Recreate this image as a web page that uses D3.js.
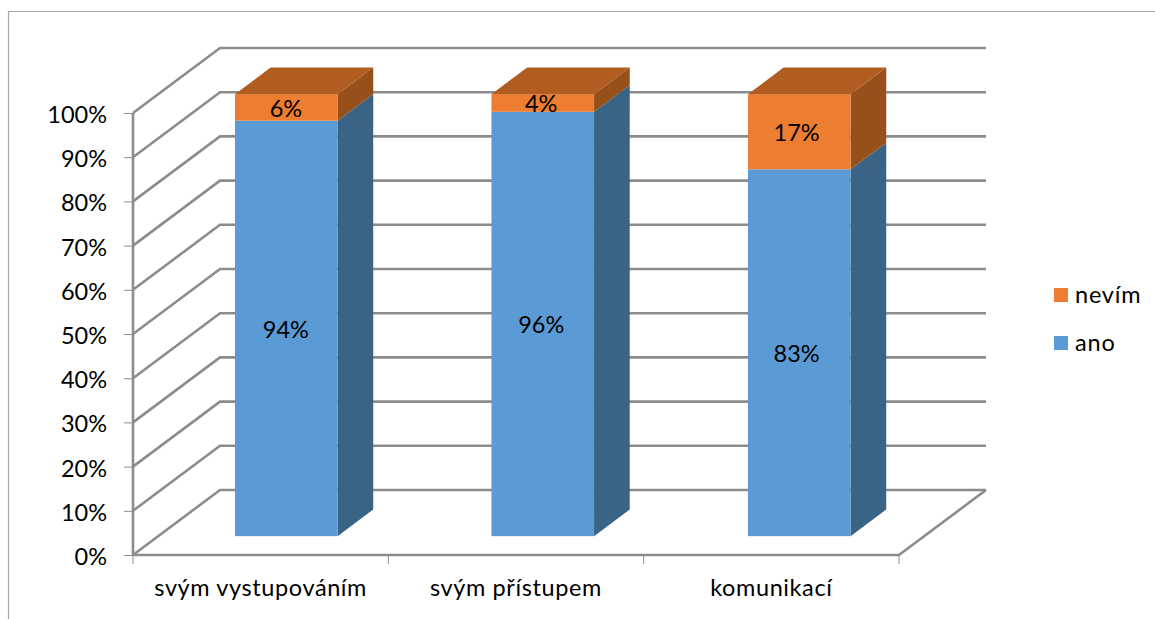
<!DOCTYPE html>
<html>
<head>
<meta charset="utf-8">
<script src="https://cdn.jsdelivr.net/npm/d3@7"></script>
<style>
  html, body { margin: 0; padding: 0; background: #fff; }
  svg { display: block; }
  text { font-family: Lato, "Open Sans", sans-serif; fill: #000; }
</style>
</head>
<body>
<svg id="chart" width="1155" height="619"></svg>
<script>
// Chart data
const categories = ["svým vystupováním", "svým přístupem", "komunikací"];
const ano = [94, 96, 83];
const nevim = [6, 4, 17];
const seriesNames = ["nevím", "ano"];
const yTicks = [0, 10, 20, 30, 40, 50, 60, 70, 80, 90, 100];

const colors = {
  ano: { front: "#5b9bd5", side: "#3a6486" },
  "nevím": { front: "#ed7d31", side: "#975019", top: "#b15d22" }
};
const gridColor = "#8c8c8c";
const fontSize = 23.5;

const svg = d3.select("#chart");

// Oblique projection: depth 0 is the front of the floor, 1 is the back wall
const depthX = d3.scaleLinear().domain([0, 1]).range([0, 87]);
const depthY = d3.scaleLinear().domain([0, 1]).range([0, -65]);

const y = d3.scaleLinear().domain([0, 100]).range([555, 113]);
const floorX = d3.scalePoint().domain(d3.range(4)).range([133, 899]);
const floorBand = d3.scaleBand().domain(categories).range([133, 899]);
const barX = d3.scaleBand().domain(categories).range([158, 927.5])
  .paddingInner(0.6).paddingOuter(0.3);

const barDepthFront = 0.29;
const barDepthBack = 0.70;

// Outer frame of the chart area (left and top sides are visible)
svg.append("path")
  .attr("d", "M8.5,619V11.5H1155")
  .attr("fill", "none")
  .attr("stroke", "#a6a6a6")
  .attr("stroke-width", 1.2);

// Walls and floor
const grid = svg.append("g")
  .attr("fill", "none")
  .attr("stroke", gridColor)
  .attr("stroke-width", 2.6);

const backX0 = floorX(0) + depthX(1);
const backX1 = floorX(3) + depthX(1);
grid.selectAll("path.gridline")
  .data(yTicks)
  .join("path")
  .attr("class", "gridline")
  .attr("d", v => `M${floorX(0)},${y(v)}L${backX0},${y(v) + depthY(1)}H${backX1}`);

grid.append("path")
  .attr("d", `M${floorX(0)},${y(100)}V${y(0)}H${floorX(3)}L${backX1},${y(0) + depthY(1)}`);

// Value axis
const yAxis = svg.append("g")
  .attr("transform", `translate(${floorX(0)},0)`)
  .call(d3.axisLeft(y).tickValues(yTicks).tickSize(9).tickPadding(17).tickFormat(d => d + "%"));
yAxis.select(".domain").remove();
yAxis.selectAll("line").attr("stroke", gridColor).attr("stroke-width", 1);
yAxis.selectAll("text")
  .attr("font-size", fontSize)
  .attr("font-family", "Lato, 'Open Sans', sans-serif")
  .attr("dy", "0.40em");

// Category ticks and labels
svg.append("g").selectAll("line")
  .data(d3.range(4))
  .join("line")
  .attr("x1", d => floorX(d)).attr("x2", d => floorX(d))
  .attr("y1", y(0)).attr("y2", y(0) + 9)
  .attr("stroke", gridColor).attr("stroke-width", 1);

const xAxis = svg.append("g")
  .attr("transform", `translate(0,${y(0)})`)
  .call(d3.axisBottom(floorBand).tickSize(0).tickPadding(24));
xAxis.select(".domain").remove();
xAxis.selectAll("text")
  .attr("font-size", fontSize)
  .attr("font-family", "Lato, 'Open Sans', sans-serif")
  .attr("letter-spacing", 0.6);

// Stacked boxes: front face, side face and, on the upper segment, the lid
const stacks = categories.map((name, i) => {
  const a = ano[i], n = nevim[i];
  return [
    { name, key: "ano", from: 0, to: a, label: a },
    { name, key: "nevím", from: a, to: a + n, label: n }
  ];
});
const dxDepth = depthX(barDepthBack) - depthX(barDepthFront);
const dyDepth = depthY(barDepthBack) - depthY(barDepthFront);
const valueY = v => y(v) + depthY(barDepthFront);

const boxes = svg.append("g").selectAll("g")
  .data(stacks)
  .join("g");

const segments = boxes.selectAll("g")
  .data(d => d)
  .join("g");

segments.append("path")
  .attr("fill", d => colors[d.key].side)
  .attr("d", d => {
    const xr = barX(d.name) + barX.bandwidth();
    return `M${xr},${valueY(d.from)}V${valueY(d.to)}l${dxDepth},${dyDepth}V${valueY(d.from) + dyDepth}Z`;
  });

segments.append("rect")
  .attr("x", d => barX(d.name))
  .attr("y", d => valueY(d.to))
  .attr("width", barX.bandwidth())
  .attr("height", d => valueY(d.from) - valueY(d.to))
  .attr("fill", d => colors[d.key].front);

segments.filter(d => d.key === "nevím").append("path")
  .attr("fill", d => colors[d.key].top)
  .attr("d", d => {
    const x0 = barX(d.name);
    return `M${x0},${valueY(d.to)}h${barX.bandwidth()}l${dxDepth},${dyDepth}h${-barX.bandwidth()}Z`;
  });

// Value labels sit on the category centres, shifted to the depth of the boxes
segments.append("text")
  .attr("x", d => floorBand(d.name) + floorBand.bandwidth() / 2 + depthX(barDepthFront))
  .attr("y", d => (valueY(d.from) + valueY(d.to)) / 2 + 1)
  .attr("dy", "0.36em")
  .attr("text-anchor", "middle")
  .attr("font-size", fontSize)
  .text(d => d.label + "%");

// Legend
const legendY = d3.scalePoint().domain(seriesNames).range([295, 343]);
const legend = svg.append("g").selectAll("g")
  .data(seriesNames)
  .join("g")
  .attr("transform", d => `translate(1054,${legendY(d)})`);
legend.append("rect")
  .attr("y", -7).attr("width", 14).attr("height", 14)
  .attr("fill", d => colors[d].front);
legend.append("text")
  .attr("x", 21).attr("dy", "0.36em")
  .attr("font-size", fontSize)
  .attr("letter-spacing", 0.8)
  .text(d => d);
</script>
</body>
</html>
